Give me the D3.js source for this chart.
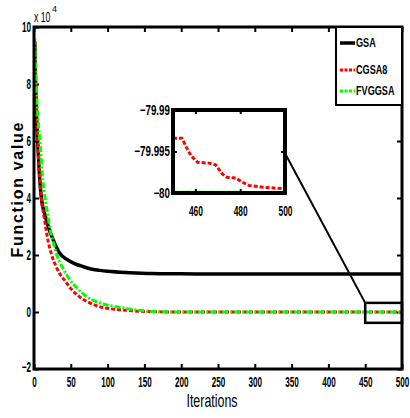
<!DOCTYPE html>
<html>
<head>
<meta charset="utf-8">
<script src="https://cdn.jsdelivr.net/npm/d3@7"></script>
<style>
  body { margin: 0; background: #fff; }
  svg { display: block; font-family: "Liberation Sans", Arial, sans-serif; }
</style>
</head>
<body>
<div id="vis"></div>
<script>
// Constants
const FRAME_WIDTH = 410;
const FRAME_HEIGHT = 418;
const MARGINS = { left: 34, right: 8, top: 27, bottom: 49 };
const VIS_WIDTH = FRAME_WIDTH - MARGINS.left - MARGINS.right;
const VIS_HEIGHT = FRAME_HEIGHT - MARGINS.top - MARGINS.bottom;

// main data (function value in units of 1e4)
const gsaIter = [1, 2, 3, 5, 7, 10, 15, 20, 25, 30, 35, 45, 55, 65, 76, 90, 100, 130, 160, 200, 300, 400, 500];
const gsaVal = [9.5, 8.2, 7.2, 6.0, 5.0, 4.0, 3.4, 2.95, 2.6, 2.3, 2.06, 1.84, 1.7, 1.61, 1.52, 1.46, 1.43, 1.38, 1.35, 1.34, 1.33, 1.33, 1.33];

const cgsaIter = [1, 2, 3, 5, 7, 10, 14, 18, 24, 30, 36, 42, 50, 62, 75, 90, 105, 121, 140, 160, 200, 300, 400, 500];
const cgsaVal = [9.5, 8.2, 7.2, 6.0, 5.0, 4.0, 3.3, 2.65, 2.0, 1.6, 1.3, 1.1, 0.82, 0.53, 0.33, 0.18, 0.11, 0.07, 0.03, 0.01, 0, 0, 0, 0];

const fvgIter = [1, 3, 6, 8, 12, 14, 18, 22, 26, 31, 40, 49, 60, 72, 83, 94, 110, 121, 140, 160, 200, 300, 400, 500];
const fvgVal = [9.6, 8.0, 6.6, 6.0, 4.6, 4.2, 3.5, 2.9, 2.45, 2.0, 1.5, 1.12, 0.8, 0.53, 0.38, 0.28, 0.19, 0.14, 0.07, 0.02, 0, 0, 0, 0];

// inset data (raw function value, iterations 450-500)
const insetRedIter = [450, 454, 456, 458, 461, 466, 469, 472, 474, 478, 481, 484, 490, 500];
const insetRedVal = [-79.9934, -79.9934, -79.9945, -79.9955, -79.9963, -79.9964, -79.9966, -79.9977, -79.9981, -79.9982, -79.9987, -79.9991, -79.9993, -79.9995];
const insetGreenIter = [450, 475, 500];
const insetGreenVal = [-79.9999, -79.9999, -80];

const xTicks = [0, 50, 100, 150, 200, 250, 300, 350, 400, 450, 500];
const yTicks = [-2, 0, 2, 4, 6, 8, 10];
const insetXTicks = [460, 480, 500];
const insetYTicks = [-80, -79.995, -79.99];
const seriesNames = ["GSA", "CGSA8", "FVGGSA"];

const COLORS = { GSA: "#000000", CGSA8: "#ff0000", FVGGSA: "#00ff00" };
const DASHES = { GSA: null, CGSA8: "4,2", FVGGSA: "6,2,2,2" };

// squeeze text horizontally (condensed look of the original)
function narrow(sel, factor) {
    sel.each(function () {
        const w = this.getComputedTextLength();
        d3.select(this).attr("textLength", w * factor).attr("lengthAdjust", "spacingAndGlyphs");
    });
}

const FRAME = d3.select("#vis")
    .append("svg")
    .attr("width", FRAME_WIDTH)
    .attr("height", FRAME_HEIGHT);

const X_SCALE = d3.scaleLinear().domain([0, 500]).range([MARGINS.left, MARGINS.left + VIS_WIDTH]);
const Y_SCALE = d3.scaleLinear().domain([-2, 10]).range([MARGINS.top + VIS_HEIGHT, MARGINS.top]);

FRAME.append("defs").append("clipPath").attr("id", "clip")
    .append("rect")
    .attr("x", MARGINS.left).attr("y", MARGINS.top)
    .attr("width", VIS_WIDTH).attr("height", VIS_HEIGHT);

// axes, inward ticks
const xAxis = FRAME.append("g")
    .attr("transform", "translate(0," + (MARGINS.top + VIS_HEIGHT) + ")")
    .call(d3.axisBottom(X_SCALE).tickValues(xTicks).tickSizeInner(-5).tickSizeOuter(0).tickPadding(8));
FRAME.append("g")
    .attr("transform", "translate(0," + MARGINS.top + ")")
    .call(d3.axisTop(X_SCALE).tickValues(xTicks).tickSizeInner(-5).tickSizeOuter(0).tickFormat(""));
const yAxis = FRAME.append("g")
    .attr("transform", "translate(" + MARGINS.left + ",0)")
    .call(d3.axisLeft(Y_SCALE).tickValues(yTicks).tickSizeInner(-5).tickSizeOuter(0).tickPadding(3));
FRAME.append("g")
    .attr("transform", "translate(" + (MARGINS.left + VIS_WIDTH) + ",0)")
    .call(d3.axisRight(Y_SCALE).tickValues(yTicks).tickSizeInner(-5).tickSizeOuter(0).tickFormat(""));

FRAME.selectAll(".domain").remove();
FRAME.selectAll(".tick line").attr("stroke", "#000").attr("stroke-width", 2);
FRAME.selectAll(".tick text").attr("font-size", "14px").attr("font-weight", "bold").attr("fill", "#000");
xAxis.selectAll("text").attr("dy", "0.72em");
yAxis.selectAll("text").filter(d => d === -2).attr("dy", "0.2em");
narrow(xAxis.selectAll("text"), 0.58);
narrow(yAxis.selectAll("text"), 0.58);

// series lines
const line = d3.line()
    .x(d => X_SCALE(d[0]))
    .y(d => Y_SCALE(d[1]))
    .curve(d3.curveMonotoneX);
const mainSeries = [
    { name: "GSA", pts: d3.zip(gsaIter, gsaVal), width: 3.5 },
    { name: "CGSA8", pts: d3.zip(cgsaIter, cgsaVal), width: 3 },
    { name: "FVGGSA", pts: d3.zip(fvgIter, fvgVal), width: 3 }
];
const lines = FRAME.append("g").attr("clip-path", "url(#clip)");
lines.selectAll("path")
    .data(mainSeries)
    .enter()
    .append("path")
    .attr("d", d => line(d.pts))
    .attr("fill", "none")
    .attr("stroke", d => COLORS[d.name])
    .attr("stroke-width", d => d.width)
    .attr("stroke-dasharray", d => DASHES[d.name]);

// plot border
FRAME.append("rect")
    .attr("x", MARGINS.left).attr("y", MARGINS.top)
    .attr("width", VIS_WIDTH).attr("height", VIS_HEIGHT)
    .attr("fill", "none").attr("stroke", "#000").attr("stroke-width", 3);

// exponent label
const expo = FRAME.append("text")
    .attr("x", MARGINS.left).attr("y", 22)
    .attr("font-size", "14px")
    .text("x 10");
narrow(expo, 0.62);
FRAME.append("text")
    .attr("x", MARGINS.left + 18).attr("y", 12)
    .attr("font-size", "9px")
    .text("4");

// axis titles
const xTitle = FRAME.append("text")
    .attr("x", X_SCALE(250) - 6).attr("y", 407)
    .attr("text-anchor", "middle")
    .attr("font-size", "18px")
    .text("Iterations");
narrow(xTitle, 0.69);

FRAME.append("text")
    .attr("transform", "translate(23,190) rotate(-90)")
    .attr("text-anchor", "middle")
    .attr("font-size", "16px")
    .attr("font-weight", "bold")
    .attr("textLength", 135)
    .attr("lengthAdjust", "spacing")
    .text("Function value");

// zoom rectangle around the tail
const zoomBox = { x0: 450, x1: 500, y0: -0.38, y1: 0.32 };
FRAME.append("rect")
    .attr("x", X_SCALE(zoomBox.x0)).attr("y", Y_SCALE(zoomBox.y1))
    .attr("width", X_SCALE(zoomBox.x1) - X_SCALE(zoomBox.x0))
    .attr("height", Y_SCALE(zoomBox.y0) - Y_SCALE(zoomBox.y1))
    .attr("fill", "none").attr("stroke", "#000").attr("stroke-width", 2.5);

// inset
const IN_X = d3.scaleLinear().domain([450, 500]).range([173, 285]);
const IN_Y = d3.scaleLinear().domain([-80, -79.99]).range([193, 110]);

FRAME.append("line")
    .attr("x1", IN_X(500)).attr("y1", IN_Y(-79.9952))
    .attr("x2", X_SCALE(zoomBox.x0)).attr("y2", Y_SCALE(zoomBox.y1))
    .attr("stroke", "#000").attr("stroke-width", 2);

FRAME.append("rect")
    .attr("x", IN_X(450)).attr("y", IN_Y(-79.99))
    .attr("width", IN_X(500) - IN_X(450)).attr("height", IN_Y(-80) - IN_Y(-79.99))
    .attr("fill", "#fff");

FRAME.append("defs").append("clipPath").attr("id", "clipIn")
    .append("rect")
    .attr("x", IN_X(450)).attr("y", IN_Y(-79.99))
    .attr("width", IN_X(500) - IN_X(450)).attr("height", IN_Y(-80) - IN_Y(-79.99));

const inX = FRAME.append("g")
    .attr("transform", "translate(0," + IN_Y(-80) + ")")
    .call(d3.axisBottom(IN_X).tickValues(insetXTicks).tickSizeInner(-4).tickSizeOuter(0).tickPadding(12));
FRAME.append("g")
    .attr("transform", "translate(0," + IN_Y(-79.99) + ")")
    .call(d3.axisTop(IN_X).tickValues(insetXTicks).tickSizeInner(-4).tickSizeOuter(0).tickFormat(""));
const inY = FRAME.append("g")
    .attr("transform", "translate(" + IN_X(450) + ",0)")
    .call(d3.axisLeft(IN_Y).tickValues(insetYTicks).tickSizeInner(-4).tickSizeOuter(0).tickPadding(3)
        .tickFormat(d => d3.format("")(+d.toFixed(3))));
FRAME.append("g")
    .attr("transform", "translate(" + IN_X(500) + ",0)")
    .call(d3.axisRight(IN_Y).tickValues(insetYTicks).tickSizeInner(-4).tickSizeOuter(0).tickFormat(""));

FRAME.selectAll(".domain").remove();
FRAME.selectAll(".tick line").attr("stroke", "#000").attr("stroke-width", 2);
inX.selectAll("text").attr("font-size", "15px").attr("font-weight", "bold").attr("fill", "#000").attr("dy", "0.72em");
inY.selectAll("text").attr("font-size", "14px").attr("font-weight", "bold").attr("fill", "#000");
narrow(inX.selectAll("text"), 0.56);
narrow(inY.selectAll("text"), 0.7);

const inLine = d3.line().x(d => IN_X(d[0])).y(d => IN_Y(d[1]));
const insetSeries = [
    { name: "FVGGSA", pts: d3.zip(insetGreenIter, insetGreenVal) },
    { name: "CGSA8", pts: d3.zip(insetRedIter, insetRedVal) }
];
FRAME.append("g").attr("clip-path", "url(#clipIn)")
    .selectAll("path")
    .data(insetSeries)
    .enter()
    .append("path")
    .attr("d", d => inLine(d.pts))
    .attr("fill", "none")
    .attr("stroke", d => COLORS[d.name])
    .attr("stroke-width", 3)
    .attr("stroke-dasharray", d => DASHES[d.name]);

FRAME.append("rect")
    .attr("x", IN_X(450)).attr("y", IN_Y(-79.99))
    .attr("width", IN_X(500) - IN_X(450)).attr("height", IN_Y(-80) - IN_Y(-79.99))
    .attr("fill", "none").attr("stroke", "#000").attr("stroke-width", 4);

// legend
const LEG = { x: 336, y: 27, w: 66, h: 78 };
FRAME.append("rect")
    .attr("x", LEG.x).attr("y", LEG.y)
    .attr("width", LEG.w).attr("height", LEG.h)
    .attr("fill", "#fff").attr("stroke", "#000").attr("stroke-width", 2);
const legRows = [43, 70, 91];
const legend = FRAME.selectAll(".legend")
    .data(seriesNames)
    .enter()
    .append("g")
    .attr("class", "legend")
    .attr("transform", (d, i) => "translate(" + LEG.x + "," + legRows[i] + ")");
legend.append("line")
    .attr("x1", 4).attr("x2", 19)
    .attr("stroke", d => COLORS[d])
    .attr("stroke-width", d => d === "GSA" ? 3.5 : 3)
    .attr("stroke-dasharray", d => d === "GSA" ? null : "3,1.5");
const legText = legend.append("text")
    .attr("x", 20).attr("y", 4)
    .attr("font-size", "12px")
    .attr("font-weight", "bold")
    .text(d => d);
narrow(legText, 0.76);
</script>
</body>
</html>
